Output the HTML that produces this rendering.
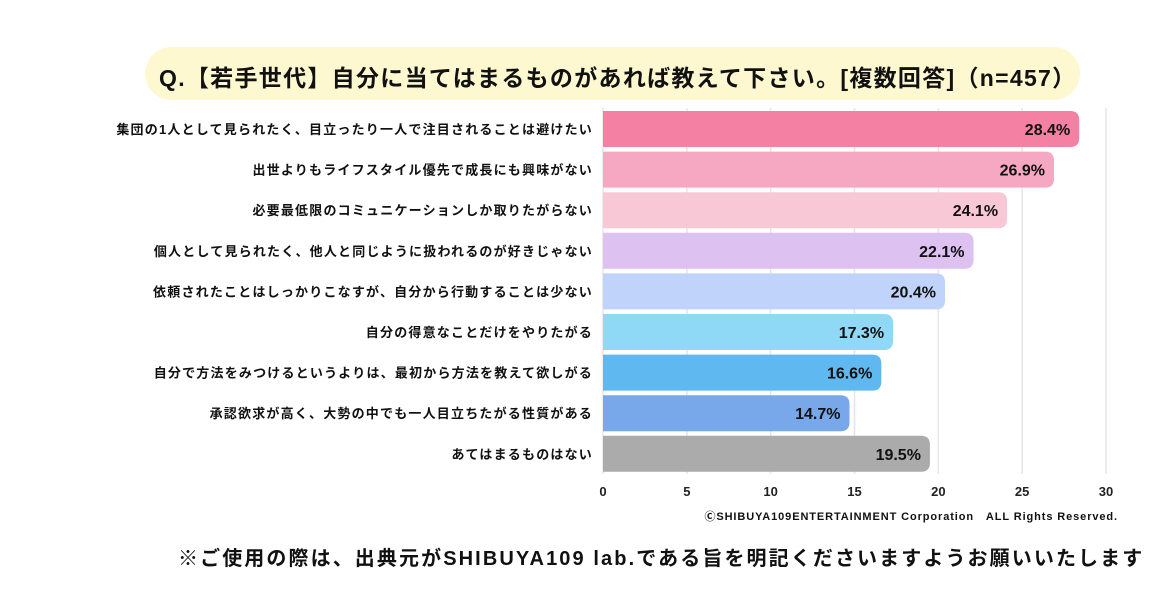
<!DOCTYPE html>
<html><head><meta charset="utf-8"><style>
body{margin:0;width:1160px;height:603px;background:#fff;overflow:hidden;font-family:"Liberation Sans","Noto Sans CJK JP",sans-serif;}
#title{position:absolute;left:145px;top:47px;width:935px;height:53px;border-radius:27px;background:#fdf8cf;}
#title span{position:absolute;left:14px;top:12px;font-size:23px;font-weight:bold;color:#111;white-space:nowrap;letter-spacing:1.3px}
#note{position:absolute;left:178px;top:542px;font-size:20px;font-weight:bold;color:#111;white-space:nowrap;letter-spacing:2.1px}
</style></head><body>
<div id="title"><span>Q.【若手世代】自分に当てはまるものがあれば教えて下さい。[複数回答]（n=457）</span></div>
<svg id="chart" width="1160" height="603" style="position:absolute;left:0;top:0"></svg>
<div id="note">※ご使用の際は、出典元がSHIBUYA109 lab.である旨を明記くださいますようお願いいたします</div>
<script>
const categories=["集団の1人として見られたく、目立ったり一人で注目されることは避けたい","出世よりもライフスタイル優先で成長にも興味がない","必要最低限のコミュニケーションしか取りたがらない","個人として見られたく、他人と同じように扱われるのが好きじゃない","依頼されたことはしっかりこなすが、自分から行動することは少ない","自分の得意なことだけをやりたがる","自分で方法をみつけるというよりは、最初から方法を教えて欲しがる","承認欲求が高く、大勢の中でも一人目立ちたがる性質がある","あてはまるものはない"];
const values=[28.4,26.9,24.1,22.1,20.4,17.3,16.6,14.7,19.5];
const tickLabels=[0,5,10,15,20,25,30];
const colors=["#f480a3","#f6a7c2","#f8c8d7","#dcc1f1","#c0d3fa","#90d9f6","#5fb8ef","#78a8ea","#ababab"];
const NS="http://www.w3.org/2000/svg";
const svg=document.getElementById("chart");
const x0=603,pxPer=(1106-603)/30,top0=111,pitch=40.6,bh=36;
const xs=v=>x0+v*pxPer;
const ys=i=>top0+i*pitch;
function mk(t,a){const e=document.createElementNS(NS,t);for(const k in a)e.setAttribute(k,a[k]);svg.appendChild(e);return e;}
tickLabels.forEach(t=>{
  const l=mk("line",{x1:xs(t),x2:xs(t),y1:108,y2:474,stroke:"#e6e6e6","stroke-width":1.5});
  
  
  const tx=mk("text",{x:xs(t),y:496,"text-anchor":"middle","font-size":13,"font-weight":"bold",fill:"#222"});
  tx.textContent=t;
  
  
});
values.forEach((v,i)=>{
  const y=ys(i),w=xs(v)-x0,r=9;
  const p=mk("path",{d:`M${x0} ${y}H${x0+w-r}Q${x0+w} ${y} ${x0+w} ${y+r}V${y+bh-r}Q${x0+w} ${y+bh} ${x0+w-r} ${y+bh}H${x0}Z`,fill:colors[i]});
  
  
  const vt=mk("text",{x:xs(v)-9,y:y+bh/2+6,"text-anchor":"end","font-size":16,"font-weight":"bold",fill:"#111"});
  vt.textContent=v.toFixed(1)+"%";
  
  
  const ct=mk("text",{x:593,y:y+bh/2+5,"text-anchor":"end","font-size":13,"font-weight":"bold",fill:"#111","letter-spacing":1.2});
  ct.textContent=categories[i];
  
  
});
const cp=mk("text",{x:1118,y:520,"text-anchor":"end","font-size":11,"font-weight":"bold",fill:"#111","letter-spacing":0.9});
cp.textContent="ⒸSHIBUYA109ENTERTAINMENT Corporation　ALL Rights Reserved.";


</script>
</body></html>
